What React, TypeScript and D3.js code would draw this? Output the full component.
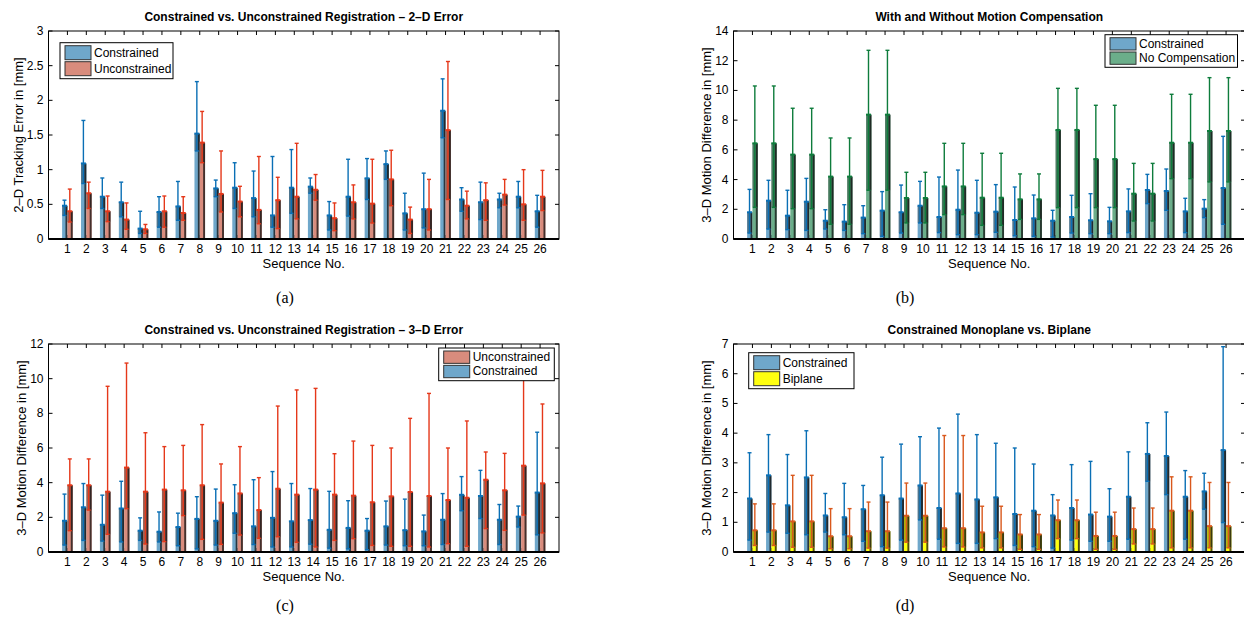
import React from 'react';
import * as d3 from 'd3';

// sequence numbers on the x axis
const sequences = [1, 2, 3, 4, 5, 6, 7, 8, 9, 10, 11, 12, 13, 14, 15, 16, 17, 18, 19, 20, 21, 22, 23, 24, 25, 26];

// (a) 2-D tracking error
const c2dMean = [0.48, 1.09, 0.61, 0.53, 0.15, 0.39, 0.47, 1.52, 0.73, 0.74, 0.59, 0.34, 0.74, 0.755, 0.34, 0.61, 0.875, 1.08, 0.37, 0.43, 1.85, 0.57, 0.53, 0.57, 0.61, 0.4];
const c2dHi = [0.56, 1.71, 0.88, 0.82, 0.4, 0.61, 0.83, 2.27, 0.85, 1.1, 0.98, 1.19, 1.29, 0.88, 0.54, 1.15, 1.16, 1.27, 0.66, 0.95, 2.31, 0.74, 0.82, 0.66, 0.83, 0.63];
const c2dLo = [0.34, 0.8, 0.44, 0.32, 0.08, 0.17, 0.27, 1.27, 0.61, 0.44, 0.32, 0.17, 0.37, 0.66, 0.13, 0.33, 0.57, 0.86, 0.13, 0.16, 1.46, 0.4, 0.28, 0.45, 0.45, 0.17];
const u2dMean = [0.4, 0.66, 0.4, 0.28, 0.14, 0.4, 0.375, 1.39, 0.65, 0.54, 0.42, 0.56, 0.61, 0.71, 0.3, 0.53, 0.51, 0.86, 0.28, 0.43, 1.57, 0.48, 0.56, 0.64, 0.5, 0.61];
const u2dHi = [0.72, 0.82, 0.62, 0.52, 0.21, 0.62, 0.61, 1.84, 1.27, 0.76, 1.19, 0.89, 1.38, 0.93, 0.52, 0.78, 1.15, 1.28, 0.46, 0.86, 2.56, 0.69, 0.81, 0.86, 1.0, 0.99];
const u2dLo = [0.245, 0.44, 0.25, 0.14, 0.08, 0.17, 0.27, 1.1, 0.39, 0.32, 0.22, 0.15, 0.29, 0.56, 0.12, 0.29, 0.23, 0.48, 0.08, 0.13, 0.57, 0.29, 0.27, 0.49, 0.27, 0.41];

// constrained 3-D motion difference, shared by (b), (c), (d)
const c3dMean = [1.8, 2.58, 1.57, 2.51, 1.23, 1.17, 1.44, 1.91, 1.8, 2.24, 1.48, 1.97, 1.77, 1.84, 1.28, 1.39, 1.23, 1.48, 1.26, 1.19, 1.86, 3.3, 3.23, 1.86, 2.04, 3.43];
const c3dHi = [3.34, 3.95, 3.28, 4.08, 1.97, 2.31, 2.24, 3.19, 3.63, 3.88, 4.17, 4.64, 3.95, 3.66, 3.5, 2.96, 1.93, 2.94, 3.05, 2.13, 3.37, 4.35, 4.71, 2.74, 2.65, 6.91];
const c3dLo = [0.4, 0.67, 0.63, 0.58, 0.67, 0.58, 0.36, 0.18, 0.4, 1.08, 0.43, 0.29, 0.29, 0.45, 0.22, 0.18, 0.13, 0.4, 0.36, 0.36, 0.43, 2.38, 1.93, 0.43, 1.44, 0.99];

// (b) no motion compensation
const ncMean = [6.44, 6.44, 5.68, 5.68, 4.2, 4.2, 8.37, 8.37, 2.76, 2.76, 3.54, 3.54, 2.78, 2.78, 2.67, 2.67, 7.34, 7.34, 5.38, 5.38, 3.05, 3.05, 6.48, 6.48, 7.27, 7.27];
const ncHi = [10.3, 10.3, 8.8, 8.8, 6.8, 6.8, 12.7, 12.7, 4.49, 4.49, 6.44, 6.44, 5.77, 5.77, 4.38, 4.38, 10.14, 10.14, 9.0, 9.0, 5.09, 5.09, 9.74, 9.74, 10.86, 10.86];
const ncLo = [2.13, 2.13, 2.04, 2.04, 0.99, 0.99, 3.28, 3.28, 1.08, 1.08, 1.64, 1.64, 0.92, 0.92, 1.32, 1.32, 2.11, 2.11, 2.11, 2.11, 1.21, 1.21, 4.06, 4.06, 3.84, 3.84];

// (c) unconstrained 3-D
const u3dMean = [3.85, 3.85, 3.48, 4.87, 3.48, 3.6, 3.56, 3.85, 2.85, 3.38, 2.42, 3.65, 3.31, 3.6, 3.31, 3.25, 2.87, 3.21, 3.46, 3.23, 3.0, 3.13, 4.17, 3.56, 4.98, 3.96];
const u3dHi = [5.37, 5.37, 9.56, 10.9, 6.88, 6.08, 6.15, 7.35, 5.08, 6.08, 4.29, 8.42, 9.35, 9.44, 5.67, 6.4, 6.15, 6.0, 7.71, 9.15, 6.0, 7.56, 5.77, 5.69, 10.4, 8.54];
const u3dLo = [1.23, 2.42, 1.02, 2.5, 0.46, 0.6, 2.1, 0.73, 0.44, 0.98, 0.79, 0.88, 0.56, 0.29, 0.67, 0.77, 0.38, 0.33, 0.33, 0.29, 0.48, 0.33, 1.35, 1.25, 2.13, 1.1];

// (d) biplane
const bpMean = [0.73, 0.73, 1.03, 1.03, 0.53, 0.53, 0.7, 0.7, 1.22, 1.22, 0.8, 0.8, 0.66, 0.66, 0.59, 0.59, 1.07, 1.07, 0.54, 0.54, 0.77, 0.77, 1.39, 1.39, 0.87, 0.87];
const bpHi = [1.62, 1.62, 2.58, 2.58, 1.46, 1.46, 1.68, 1.68, 2.32, 2.32, 3.92, 3.92, 1.54, 1.54, 1.26, 1.26, 1.75, 1.75, 1.34, 1.34, 1.48, 1.48, 2.53, 2.53, 2.34, 2.34];
const bpLo = [0.22, 0.22, 0.16, 0.16, 0.11, 0.11, 0.13, 0.13, 0.33, 0.33, 0.17, 0.17, 0.14, 0.14, 0.09, 0.09, 0.45, 0.45, 0.09, 0.09, 0.27, 0.27, 0.14, 0.14, 0.14, 0.14];

const FONT = '"Liberation Sans", Arial, Helvetica, sans-serif';

const BLUE = { fill: '#6FA7CA', err: '#0A6FB5' };
const RED = { fill: '#D98C7D', err: '#E5381A' };
const GREEN = { fill: '#6BAE8A', err: '#0E7C3C' };
const YELLOW = { fill: '#FFFF10', err: '#D9581C' };

type Series = { name: string; mean: number[]; lo: number[]; hi: number[]; fill: string; err: string };

type PanelProps = {
  left: number;
  right: number;
  top: number;
  bottom: number;
  yMax: number;
  yStep: number;
  title: string;
  yLabel: string;
  yLabelX: number;
  caption: string;
  captionX: number;
  captionY: number;
  series: Series[];
  legendOrder: number[];
  legend: { x: number; y: number; w: number; h: number };
};

function Panel(p: PanelProps) {
  const x = d3.scaleLinear().domain([0, 27]).range([p.left, p.right]);
  const y = d3.scaleLinear().domain([0, p.yMax]).range([p.bottom, p.top]);
  const yTicks = d3.range(0, p.yMax + 1e-9, p.yStep);
  const bw = (x(1) - x(0)) * 0.28;
  const fmt = (v: number) => String(+v.toFixed(2));
  const rowH = (p.legend.h - 4) / 2;

  return (
    <g fontFamily={FONT}>
      <text x={(p.left + p.right) / 2} y={p.top - 10} textAnchor="middle" fontSize={12} fontWeight="bold">
        {p.title}
      </text>

      {/* ticks */}
      {sequences.map(s => (
        <g key={'t' + s}>
          <line x1={x(s)} x2={x(s)} y1={p.top} y2={p.top + 4} stroke="#000" />
          <line x1={x(s)} x2={x(s)} y1={p.bottom} y2={p.bottom - 4} stroke="#000" />
          <text x={x(s)} y={p.bottom + 14} textAnchor="middle" fontSize={12}>
            {s}
          </text>
        </g>
      ))}
      {yTicks.map(t => (
        <g key={'y' + t}>
          <line x1={p.left} x2={p.left + 4} y1={y(t)} y2={y(t)} stroke="#000" />
          <line x1={p.right} x2={p.right - 4} y1={y(t)} y2={y(t)} stroke="#000" />
          <text x={p.left - 5} y={y(t) + 4} textAnchor="end" fontSize={12}>
            {fmt(t)}
          </text>
        </g>
      ))}

      {/* bars */}
      {p.series.map((s, k) =>
        sequences.map((seq, i) => {
          const bx = x(seq) + (k - 1) * bw;
          const m = s.mean[i];
          const lo = Math.min(s.lo[i], m);
          return (
            <g key={'b' + k + '-' + i}>
              <rect x={bx} y={y(m)} width={bw} height={y(0) - y(m)} fill={s.fill} />
              <rect x={bx} y={y(m)} width={bw} height={y(lo) - y(m)} fill="#000" opacity={0.3} />
              <rect x={bx + bw * 0.64} y={y(m)} width={bw * 0.36} height={y(0) - y(m)} fill="#111" opacity={0.75} />
            </g>
          );
        })
      )}

      {/* error bars */}
      {p.series.map((s, k) =>
        sequences.map((seq, i) => {
          const cx = x(seq) + (k - 1) * bw + bw * 0.45;
          const cap = 2;
          return (
            <g key={'e' + k + '-' + i} stroke={s.err} strokeWidth={1.4}>
              <line x1={cx} x2={cx} y1={y(s.lo[i])} y2={Math.max(y(s.hi[i]), p.top)} />
              {y(s.hi[i]) >= p.top && <line x1={cx - cap} x2={cx + cap} y1={y(s.hi[i])} y2={y(s.hi[i])} />}
              <line x1={cx - cap} x2={cx + cap} y1={y(s.lo[i])} y2={y(s.lo[i])} />
              <line x1={cx - cap - 0.5} x2={cx + cap + 0.5} y1={y(s.mean[i])} y2={y(s.mean[i])} strokeWidth={2} />
            </g>
          );
        })
      )}

      {/* frame */}
      <rect x={p.left} y={p.top} width={p.right - p.left} height={p.bottom - p.top} fill="none" stroke="#000" strokeWidth={1} />
      <line x1={p.left} x2={p.right} y1={p.bottom} y2={p.bottom} stroke="#000" strokeWidth={2} />

      {/* legend */}
      <rect x={p.legend.x} y={p.legend.y} width={p.legend.w} height={p.legend.h} fill="#fff" stroke="#000" strokeWidth={1} />
      {p.legendOrder.map((k, r) => {
        const ry = p.legend.y + 2 + r * rowH;
        return (
          <g key={'l' + k}>
            <rect x={p.legend.x + 5} y={ry + 1} width={26} height={rowH - 2} fill={p.series[k].fill} stroke="#333" strokeWidth={1} />
            <text x={p.legend.x + 34} y={ry + rowH - 3.5} fontSize={12}>
              {p.series[k].name}
            </text>
          </g>
        );
      })}

      <text x={(p.left + p.right) / 2} y={p.bottom + 29} textAnchor="middle" fontSize={13}>
        Sequence No.
      </text>
      <text transform={`translate(${p.yLabelX},${(p.top + p.bottom) / 2}) rotate(-90)`} textAnchor="middle" fontSize={13}>
        {p.yLabel}
      </text>
      <text x={p.captionX} y={p.captionY} textAnchor="middle" fontSize={16} fontFamily='"Liberation Serif", "Times New Roman", serif'>
        {p.caption}
      </text>
    </g>
  );
}

export default function App() {
  const constrained2d: Series = { name: 'Constrained', mean: c2dMean, lo: c2dLo, hi: c2dHi, ...BLUE };
  const unconstrained2d: Series = { name: 'Unconstrained', mean: u2dMean, lo: u2dLo, hi: u2dHi, ...RED };
  const constrained3d: Series = { name: 'Constrained', mean: c3dMean, lo: c3dLo, hi: c3dHi, ...BLUE };
  const noComp: Series = { name: 'No Compensation', mean: ncMean, lo: ncLo, hi: ncHi, ...GREEN };
  const unconstrained3d: Series = { name: 'Unconstrained', mean: u3dMean, lo: u3dLo, hi: u3dHi, ...RED };
  const biplane: Series = { name: 'Biplane', mean: bpMean, lo: bpLo, hi: bpHi, ...YELLOW };

  return (
    <svg width={1244} height={619} style={{ position: 'absolute', left: 0, top: 0, background: '#fff' }}>
      <Panel
        left={48.5} right={559} top={31} bottom={239}
        yMax={3} yStep={0.5}
        title="Constrained vs. Unconstrained Registration – 2–D Error"
        yLabel="2–D Tracking Error in [mm]" yLabelX={23}
        caption="(a)" captionX={285} captionY={303}
        series={[constrained2d, unconstrained2d]} legendOrder={[0, 1]}
        legend={{ x: 60, y: 42.7, w: 113, h: 36 }}
      />
      <Panel
        left={733.5} right={1245} top={31} bottom={239}
        yMax={14} yStep={2}
        title="With and Without Motion Compensation"
        yLabel="3–D Motion Difference in [mm]" yLabelX={711}
        caption="(b)" captionX={905} captionY={303}
        series={[constrained3d, noComp]} legendOrder={[0, 1]}
        legend={{ x: 1105, y: 34.7, w: 132.5, h: 32.6 }}
      />
      <Panel
        left={48.5} right={559} top={344} bottom={552}
        yMax={12} yStep={2}
        title="Constrained vs. Unconstrained Registration – 3–D Error"
        yLabel="3–D Motion Difference in [mm]" yLabelX={26}
        caption="(c)" captionX={285} captionY={611}
        series={[constrained3d, unconstrained3d]} legendOrder={[1, 0]}
        legend={{ x: 438.7, y: 348, w: 115.6, h: 32.7 }}
      />
      <Panel
        left={733.5} right={1245} top={344} bottom={552}
        yMax={7} yStep={1}
        title="Constrained Monoplane vs. Biplane"
        yLabel="3–D Motion Difference in [mm]" yLabelX={711}
        caption="(d)" captionX={905} captionY={611}
        series={[constrained3d, biplane]} legendOrder={[0, 1]}
        legend={{ x: 748.7, y: 352.7, w: 105.3, h: 36 }}
      />
    </svg>
  );
}
